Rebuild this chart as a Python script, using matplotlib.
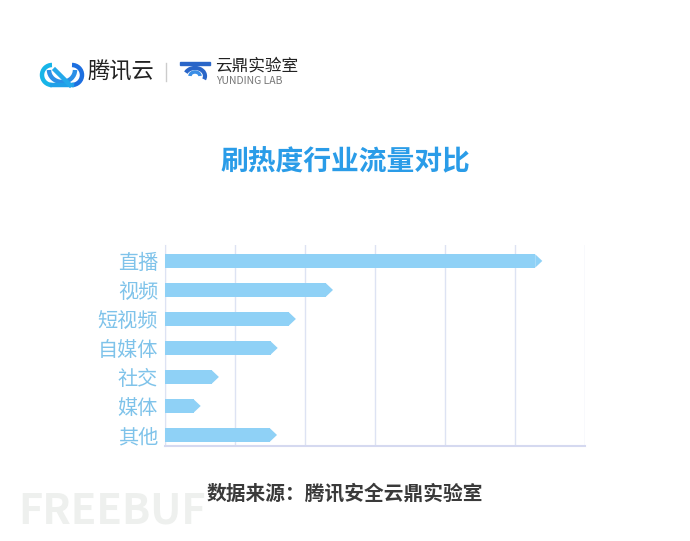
import matplotlib
matplotlib.use("Agg")
import matplotlib.pyplot as plt
from matplotlib.patches import Polygon, Circle, Arc, Rectangle
import numpy as np

plt.rcParams['font.family'] = ['Noto Sans CJK SC', 'DejaVu Sans']

categories = ['直播', '视频', '短视频', '自媒体', '社交', '媒体', '其他']
values = [5.39, 2.40, 1.87, 1.61, 0.77, 0.51, 1.60]
x_ticks = [0, 1, 2, 3, 4, 5, 6]
title = '刷热度行业流量对比'
source = '数据来源：腾讯安全云鼎实验室'

W, H = 690, 541
fig = plt.figure(figsize=(W / 100, H / 100), dpi=100)
fig.patch.set_facecolor('white')

def fx(px):
    return px / W

def fy(py):
    return 1 - py / H

ax = fig.add_axes([fx(165), fy(446), fx(585) - fx(165), fy(245) - fy(446)])
bar_color = '#8fd1f6'
label_color = '#7fc3ea'
grid_color = '#dde3f3'

y = np.arange(len(categories))
tip = 0.1
bar_h = 0.46
ax.barh(y, [v - tip for v in values], height=bar_h, color=bar_color, zorder=3)
for yi, v in zip(y, values):
    ax.add_patch(Polygon([[v - tip - 0.001, yi - bar_h / 2], [v, yi], [v - tip - 0.001, yi + bar_h / 2]],
                         closed=True, color=bar_color, lw=0, zorder=3))

ax.set_xlim(0, 6)
ax.set_ylim(6.38, -0.55)
ax.set_xticks(x_ticks)
ax.set_xticklabels([])
ax.tick_params(axis='x', length=0)
ax.tick_params(axis='y', length=0, pad=5)
ax.set_yticks(y)
ax.set_yticklabels(categories, fontsize=14.5, color=label_color)
ax.grid(axis='x', color=grid_color, lw=1, zorder=0)
for s in ['top', 'right']:
    ax.spines[s].set_visible(False)
ax.spines['left'].set_color(grid_color)
ax.spines['bottom'].set_color('#d5d9f0')
ax.spines['bottom'].set_linewidth(1.5)

# title and source
fig.text(fx(345), fy(162), title, fontsize=20, fontweight='bold', color='#2a9ce8',
         ha='center', va='center')
fig.text(fx(345), fy(494), source, fontsize=14.2, fontweight='bold', color='#3a3a3a',
         ha='center', va='center')

# watermark
fig.text(fx(18), fy(512), 'FREEBUF', fontsize=30, fontweight='bold', color='#eef0ee',
         ha='left', va='center', zorder=0)

# logo area
lax = fig.add_axes([0, 0, 1, 1], zorder=-1)
lax.set_xlim(0, W)
lax.set_ylim(H, 0)
lax.axis('off')
# tencent cloud icon
lax.add_patch(Arc((62, 70), 26, 24, theta1=0, theta2=180, color='#2b8fe6', lw=3.2))
lax.add_patch(Arc((52, 75), 20, 20, theta1=90, theta2=270, color='#17b5e8', lw=3.2))
lax.add_patch(Arc((72, 75), 20, 20, theta1=-90, theta2=90, color='#1d6fe0', lw=3.2))
lax.plot([52, 72], [85, 85], color='#1fa0e8', lw=3.2)
lax.plot([55, 70], [70, 85], color='#23a8ea', lw=3.2)
fig.text(fx(87), fy(72), '腾讯云', fontsize=16, color='#222222', ha='left', va='center')
lax.plot([166, 166], [63, 81], color='#cccccc', lw=1)
# yunding icon
lax.add_patch(Rectangle((180, 62), 30, 3, color='#2a66c8'))
lax.add_patch(Arc((195, 76), 20, 16, theta1=200, theta2=20, color='#2a66c8', lw=3))
lax.add_patch(Arc((195, 76), 10, 8, theta1=180, theta2=360, color='#3b8ee6', lw=2.5))
fig.text(fx(215), fy(66), '云鼎实验室', fontsize=12, color='#222222', ha='left', va='center')
fig.text(fx(216), fy(81), 'YUNDING LAB', fontsize=7.5, color='#777777', ha='left', va='center')

fig.savefig('out.png', dpi=100, facecolor='white')
